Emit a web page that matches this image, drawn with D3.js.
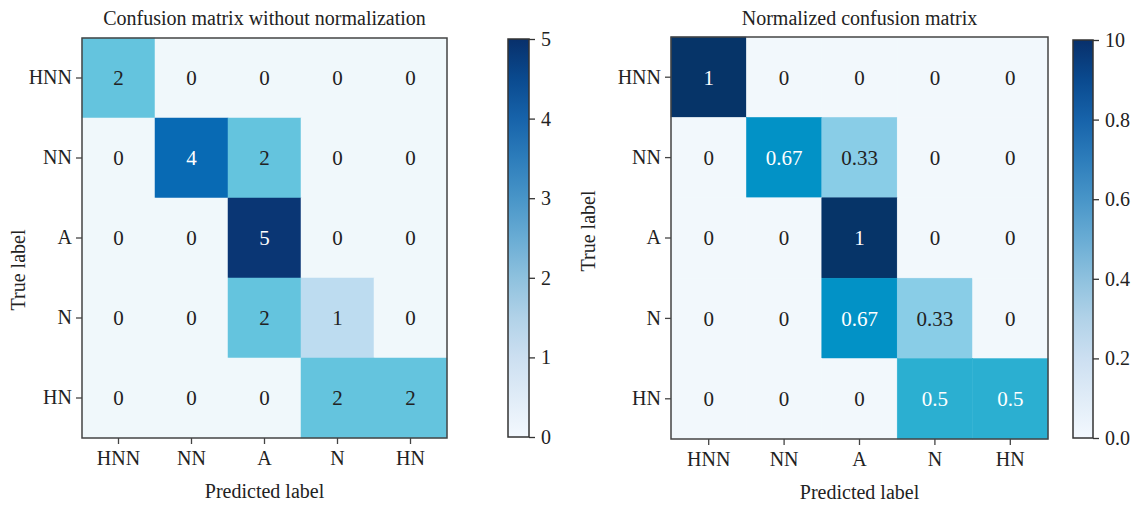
<!DOCTYPE html>
<html>
<head>
<meta charset="utf-8">
<script src="https://cdn.jsdelivr.net/npm/d3@7"></script>
<style>
  body { margin: 0; background: #fff; }
  svg text { font-family: "Liberation Serif", "DejaVu Serif", serif; fill: #222; }
</style>
</head>
<body>
<svg id="chart" width="1136" height="506"></svg>
<script>
const labels = ['HNN', 'NN', 'A', 'N', 'HN'];

const countMatrix = [
  [2, 0, 0, 0, 0],
  [0, 4, 2, 0, 0],
  [0, 0, 5, 0, 0],
  [0, 0, 2, 1, 0],
  [0, 0, 0, 2, 2]
];
const countText = countMatrix.map(r => r.map(v => String(v)));

const normMatrix = [
  [1, 0, 0, 0, 0],
  [0, 0.67, 0.33, 0, 0],
  [0, 0, 1, 0, 0],
  [0, 0, 0.67, 0.33, 0],
  [0, 0, 0, 0.5, 0.5]
];
const normText = normMatrix.map(r => r.map(v => String(v)));

const countTicks = [0, 1, 2, 3, 4, 5];
const countTickLabels = ['0', '1', '2', '3', '4', '5'];
const normTicks = [0, 0.2, 0.4, 0.6, 0.8, 1];
const normTickLabels = ['0.0', '0.2', '0.4', '0.6', '0.8', '10'];

const svg = d3.select('#chart');

// colour stops
const countColor = d3.scaleLinear()
  .domain([0, 1, 2, 4, 5])
  .range(['#f0f8fb', '#bddcf0', '#64c4de', '#086ab4', '#0a3674']);
const normColor = d3.scaleLinear()
  .domain([0, 0.33, 0.5, 0.67, 1])
  .range(['#f2f8fc', '#89cde7', '#2bafd1', '#0292c6', '#063468']);

drawMatrix({
  data: countMatrix, text: countText, color: countColor, max: 5,
  left: 82, right: 447, top: 38, bottom: 438,
  title: 'Confusion matrix without normalization', ylabelX: 18, ylabelY: 270,
  cb: { x: 508, w: 21, top: 39, bottom: 437, ticks: countTicks, tickLabels: countTickLabels, id: 'g1' }
});

drawMatrix({
  data: normMatrix, text: normText, color: normColor, max: 1,
  left: 671, right: 1048, top: 37, bottom: 439,
  title: 'Normalized confusion matrix', ylabelX: 588, ylabelY: 231,
  cb: { x: 1073, w: 20, top: 40, bottom: 438, ticks: normTicks, tickLabels: normTickLabels, id: 'g2' }
});

function drawMatrix(o) {
  const x = d3.scaleBand().domain(labels).range([o.left, o.right]);
  const y = d3.scaleBand().domain(labels).range([o.top, o.bottom]);
  const g = svg.append('g');

  const cells = [];
  o.data.forEach((row, i) => row.forEach((v, j) => cells.push({ r: labels[i], c: labels[j], v: v, t: o.text[i][j] })));

  g.selectAll('rect.cell').data(cells).enter().append('rect')
    .attr('class', 'cell')
    .attr('x', d => x(d.c))
    .attr('y', d => y(d.r))
    .attr('width', x.bandwidth())
    .attr('height', y.bandwidth())
    .attr('fill', d => o.color(d.v))
    .attr('stroke', d => o.color(d.v))
    .attr('stroke-width', 0.5);

  g.selectAll('text.val').data(cells).enter().append('text')
    .attr('class', 'val')
    .attr('x', d => x(d.c) + x.bandwidth() / 2)
    .attr('y', d => y(d.r) + y.bandwidth() / 2)
    .attr('dy', '0.35em')
    .attr('text-anchor', 'middle')
    .style('font-size', '21px')
    .style('fill', d => d.v >= o.max / 2 ? '#fff' : '#222')
    .text(d => d.t);

  // frame
  g.append('rect')
    .attr('x', o.left).attr('y', o.top)
    .attr('width', o.right - o.left).attr('height', o.bottom - o.top)
    .attr('fill', 'none').attr('stroke', '#444').attr('stroke-width', 1.5);

  const xAxis = g.append('g')
    .attr('transform', `translate(0,${o.bottom})`)
    .call(d3.axisBottom(x).tickSize(6).tickPadding(7));
  const yAxis = g.append('g')
    .attr('transform', `translate(${o.left},0)`)
    .call(d3.axisLeft(y).tickSize(6).tickPadding(4));
  [xAxis, yAxis].forEach(a => {
    a.select('.domain').remove();
    a.selectAll('line').attr('stroke', '#444').attr('stroke-width', 1.3);
    a.selectAll('text').style('font-size', '20px').style('fill', '#222')
      .attr('font-family', null);
  });

  g.append('text')
    .attr('x', (o.left + o.right) / 2).attr('y', 25)
    .attr('text-anchor', 'middle').style('font-size', '20px')
    .text(o.title);

  g.append('text')
    .attr('x', (o.left + o.right) / 2).attr('y', o.bottom + 60)
    .attr('text-anchor', 'middle').style('font-size', '20px')
    .text('Predicted label');

  g.append('text')
    .attr('transform', `translate(${o.ylabelX + 7},${o.ylabelY}) rotate(-90)`)
    .attr('text-anchor', 'middle').style('font-size', '20px')
    .text('True label');

  // colour bar
  const cb = o.cb;
  const cy = d3.scaleLinear().domain([0, o.max]).range([cb.bottom, cb.top]);
  const grad = svg.append('defs').append('linearGradient')
    .attr('id', cb.id).attr('x1', 0).attr('y1', 1).attr('x2', 0).attr('y2', 0);
  d3.range(0, 1.0001, 0.1).forEach(t => {
    grad.append('stop').attr('offset', t).attr('stop-color', d3.interpolateBlues(0.02 + t * 0.98));
  });
  g.append('rect')
    .attr('x', cb.x).attr('y', cb.top)
    .attr('width', cb.w).attr('height', cb.bottom - cb.top)
    .attr('fill', `url(#${cb.id})`)
    .attr('stroke', '#333').attr('stroke-width', 1.5);
  const cAxis = g.append('g')
    .attr('transform', `translate(${cb.x + cb.w},0)`)
    .call(d3.axisRight(cy).tickValues(cb.ticks).tickSize(6).tickPadding(6)
      .tickFormat((d, i) => cb.tickLabels[i]));
  cAxis.select('.domain').remove();
  cAxis.selectAll('line').attr('stroke', '#333').attr('stroke-width', 1.3);
  cAxis.selectAll('text').style('font-size', '20px').style('fill', '#222').attr('font-family', null);
}
</script>
</body>
</html>
